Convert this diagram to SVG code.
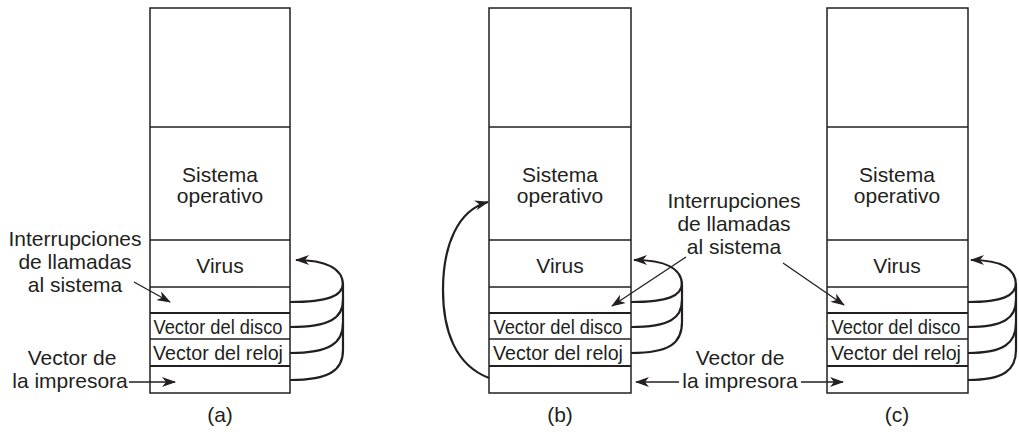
<svg xmlns="http://www.w3.org/2000/svg" width="1019" height="432" viewBox="0 0 1019 432">
<style>
.box{fill:#fff;stroke:#231f20;stroke-width:1.5}
.div{stroke:#231f20;stroke-width:1.5}
.thk{stroke:#231f20;stroke-width:2.2}
.t{font-family:"Liberation Sans",Arial,sans-serif;font-size:21px;fill:#231f20;text-anchor:middle}
.v{font-family:"Liberation Sans",Arial,sans-serif;font-size:21px;fill:#231f20;text-anchor:middle}
.loop{fill:none;stroke:#231f20;stroke-width:2.2}
.lead{fill:none;stroke:#231f20;stroke-width:1.3}
</style>
<defs>
<marker id="ah" markerUnits="userSpaceOnUse" markerWidth="14" markerHeight="10" refX="13" refY="5" orient="auto">
<path d="M0,0 L14,5 L0,10 L4,5 Z" fill="#231f20"/>
</marker>
</defs>

<g id="memory-a">
<rect class="box" x="150" y="8" width="140" height="385"/>
<line class="div" x1="150" y1="127" x2="290" y2="127"/>
<line class="div" x1="150" y1="240" x2="290" y2="240"/>
<line class="div" x1="150" y1="287" x2="290" y2="287"/>
<line class="thk" x1="150" y1="313" x2="290" y2="313"/>
<line class="div" x1="150" y1="339" x2="290" y2="339"/>
<line class="thk" x1="150" y1="366" x2="290" y2="366"/>
<text class="t" x="220" y="182">Sistema</text>
<text class="t" x="220" y="203">operativo</text>
<text class="t" x="220" y="273">Virus</text>
<text class="v" x="218" y="334" textLength="129" lengthAdjust="spacingAndGlyphs">Vector del disco</text>
<text class="v" x="218" y="360" textLength="130" lengthAdjust="spacingAndGlyphs">Vector del reloj</text>
</g>

<g id="memory-b">
<rect class="box" x="489" y="8" width="142" height="385"/>
<line class="div" x1="489" y1="127" x2="631" y2="127"/>
<line class="div" x1="489" y1="240" x2="631" y2="240"/>
<line class="div" x1="489" y1="287" x2="631" y2="287"/>
<line class="thk" x1="489" y1="313" x2="631" y2="313"/>
<line class="div" x1="489" y1="339" x2="631" y2="339"/>
<line class="thk" x1="489" y1="366" x2="631" y2="366"/>
<text class="t" x="560" y="182">Sistema</text>
<text class="t" x="560" y="203">operativo</text>
<text class="t" x="560" y="273">Virus</text>
<text class="v" x="558" y="334" textLength="129" lengthAdjust="spacingAndGlyphs">Vector del disco</text>
<text class="v" x="558" y="360" textLength="130" lengthAdjust="spacingAndGlyphs">Vector del reloj</text>
</g>

<g id="memory-c">
<rect class="box" x="827" y="8" width="141" height="385"/>
<line class="div" x1="827" y1="127" x2="968" y2="127"/>
<line class="div" x1="827" y1="240" x2="968" y2="240"/>
<line class="div" x1="827" y1="287" x2="968" y2="287"/>
<line class="thk" x1="827" y1="313" x2="968" y2="313"/>
<line class="div" x1="827" y1="339" x2="968" y2="339"/>
<line class="thk" x1="827" y1="366" x2="968" y2="366"/>
<text class="t" x="897" y="182">Sistema</text>
<text class="t" x="897" y="203">operativo</text>
<text class="t" x="897" y="273">Virus</text>
<text class="v" x="896" y="334" textLength="129" lengthAdjust="spacingAndGlyphs">Vector del disco</text>
<text class="v" x="896" y="360" textLength="130" lengthAdjust="spacingAndGlyphs">Vector del reloj</text>
</g>

<g id="label-a-interrupciones">
<text class="t" x="75" y="246">Interrupciones</text>
<text class="t" x="75" y="269">de llamadas</text>
<text class="t" x="75" y="292">al sistema</text>
</g>
<g id="label-a-impresora">
<text class="t" x="72" y="365">Vector de</text>
<text class="t" x="70" y="388">la impresora</text>
</g>
<g id="label-bc-interrupciones">
<text class="t" x="734" y="208">Interrupciones</text>
<text class="t" x="734" y="231">de llamadas</text>
<text class="t" x="734" y="254">al sistema</text>
</g>
<g id="label-bc-impresora">
<text class="t" x="740" y="365">Vector de</text>
<text class="t" x="740" y="388">la impresora</text>
</g>
<g id="captions">
<text class="t" x="220" y="422">(a)</text>
<text class="t" x="560" y="422">(b)</text>
<text class="t" x="897" y="422">(c)</text>
</g>

<g id="connectors">
<path class="loop" d="M290,380 C330,380 343,370 343,350 L343,285 C343,268 325,260 296,260" marker-end="url(#ah)"/>
<path class="loop" d="M290,353 C330,353 343,343 343,323"/>
<path class="loop" d="M290,327 C330,327 343,318 343,300"/>
<path class="loop" d="M290,302 C328,302 343,296 343,283"/>
<path class="lead" d="M134,282 L170,302" marker-end="url(#ah)"/>
<path class="lead" d="M129,382 L175,382" marker-end="url(#ah)"/>

<path class="loop" d="M631,353 C670,353 682,343 682,322 L682,285 C682,268 664,260 634,260" marker-end="url(#ah)"/>
<path class="loop" d="M631,327 C670,327 682,318 682,300"/>
<path class="loop" d="M631,302 C668,302 682,296 682,283"/>
<path class="loop" d="M489,378 C455,365 443,330 443,290 C443,245 458,210 488,202" marker-end="url(#ah)"/>
<path class="lead" d="M686,257 L612,306" marker-end="url(#ah)"/>
<path class="lead" d="M679,382 L636,382" marker-end="url(#ah)"/>

<path class="loop" d="M968,380 C1004,380 1016,370 1016,350 L1016,285 C1016,268 1000,260 971,260" marker-end="url(#ah)"/>
<path class="loop" d="M968,353 C1004,353 1016,343 1016,323"/>
<path class="loop" d="M968,327 C1004,327 1016,318 1016,300"/>
<path class="loop" d="M968,302 C1002,302 1016,296 1016,283"/>
<path class="lead" d="M783,263 L844,305" marker-end="url(#ah)"/>
<path class="lead" d="M801,382 L843,382" marker-end="url(#ah)"/>
</g>
</svg>
